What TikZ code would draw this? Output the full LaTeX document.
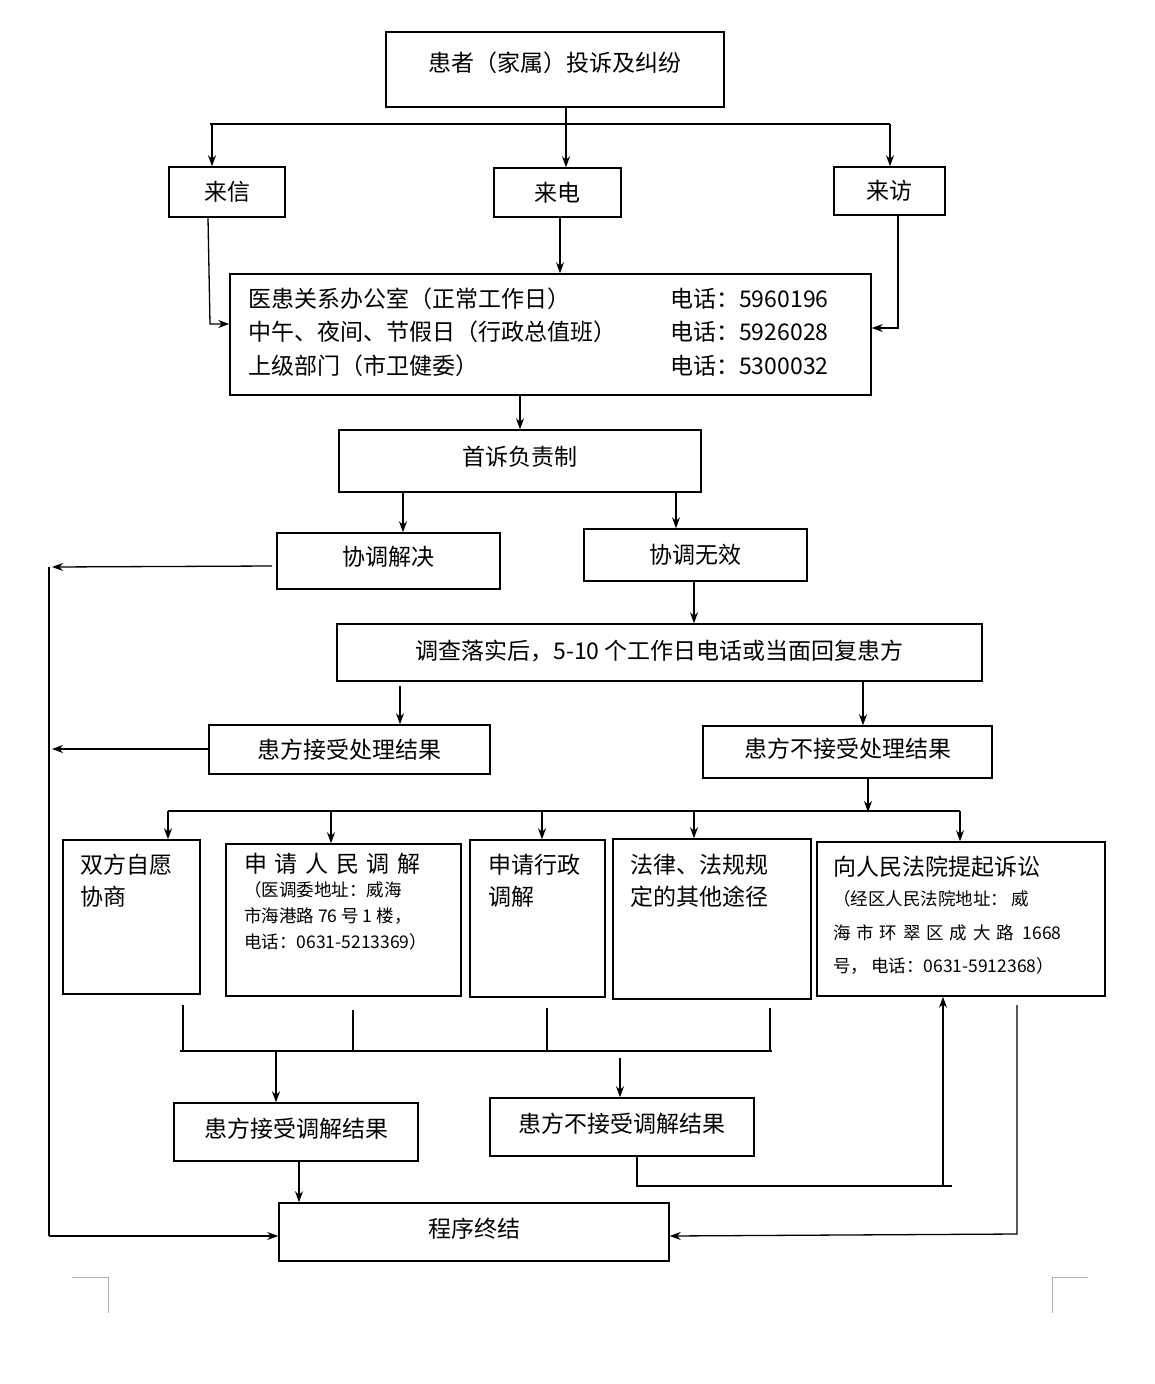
\documentclass[tikz,border=0pt]{standalone}
\usepackage{fontspec}
\setmainfont{Liberation Serif}
\newfontfamily\cjk{Noto Sans CJK SC}
\usetikzlibrary{arrows.meta}
\begin{document}
\begin{tikzpicture}[x=1pt,y=-1pt,
  box/.style={draw,line width=1.5pt,inner sep=0pt,font=\cjk\fontsize{23}{26}\selectfont},
  txt/.style={inner sep=0pt,anchor=west,font=\cjk\fontsize{23}{26}\selectfont},
  sm/.style={inner sep=0pt,anchor=west,font=\cjk\fontsize{17.5}{20}\selectfont},
  ln/.style={line width=1.3pt},
  ar/.style={line width=1.3pt,-{Stealth[length=11pt,width=8pt]}}]
\useasboundingbox (0,0) rectangle (1154,1384);
\newcommand\bx[6]{\node[box,minimum width={(#4-#2)*1pt},minimum height={(#5-#3)*1pt}] (#1) at ({(#2+#4)/2},{(#3+#5)/2}) {#6};}
\bx{top}{386}{32}{724}{107}{\raisebox{16pt}{患者（家属）投诉及纠纷}}
\bx{xin}{169}{167}{285}{217}{来信}
\bx{dian}{494}{168}{621}{217}{来电}
\bx{fang}{834}{167}{945}{215}{来访}
\bx{big}{230}{274}{871}{395}{}
\node[txt] at (248,299) {医患关系办公室（正常工作日）};
\node[txt] at (248,332) {中午、夜间、节假日（行政总值班）};
\node[txt] at (248,366) {上级部门（市卫健委）};
\node[txt] at (670,299) {电话：5960196};
\node[txt] at (670,332) {电话：5926028};
\node[txt] at (670,366) {电话：5300032};
\bx{shou}{339}{430}{701}{492}{\raisebox{10pt}{首诉负责制}}
\bx{jj}{277}{533}{500}{589}{\raisebox{10pt}{协调解决}}
\bx{wx}{584}{529}{807}{581}{协调无效}
\bx{dc}{337}{624}{982}{681}{\raisebox{6pt}{调查落实后，5-10 个工作日电话或当面回复患方}}
\bx{js}{209}{725}{490}{774}{患方接受处理结果}
\bx{bjs}{703}{726}{992}{778}{\raisebox{8pt}{患方不接受处理结果}}
\bx{A}{63}{840}{200}{994}{}
\bx{B}{226}{844}{461}{996}{}
\bx{C}{470}{840}{605}{997}{}
\bx{D}{613}{839}{811}{999}{}
\bx{E}{817}{842}{1105}{996}{}
\node[txt] at (80,865) {双方自愿};
\node[txt] at (80,897) {协商};
\node[txt] at (244,864) {申\,\,请\,\,人\,\,民\,\,调\,\,解};
\node[sm] at (244,890) {（医调委地址：威海};
\node[sm] at (244,916) {市海港路 76 号 1 楼，};
\node[sm] at (244,942) {电话：0631-5213369）};
\node[txt] at (488,865) {申请行政};
\node[txt] at (488,897) {调解};
\node[txt] at (630,865) {法律、法规规};
\node[txt] at (630,897) {定的其他途径};
\node[txt] at (833,867) {向人民法院提起诉讼};
\node[sm] at (833,899) {（经区人民法院地址：\,威};
\node[sm] at (833,933) {海\,\,市\,\,环\,\,翠\,\,区\,\,成\,\,大\,\,路\,\,\,1668};
\node[sm] at (833,966) {号，\,电话：0631-5912368）};
\bx{tj}{174}{1103}{418}{1161}{\raisebox{8pt}{患方接受调解结果}}
\bx{btj}{490}{1098}{754}{1156}{\raisebox{8pt}{患方不接受调解结果}}
\bx{end}{279}{1203}{669}{1261}{\raisebox{8pt}{程序终结}}
\coordinate (h1) at (210,124); \coordinate (h2) at (890,124);
\draw[ln] (h1) -- (h2);
\draw[ar] (212,124) -- (xin.north -| 212,0);
\draw[ar] (top.south -| 566,0) -- (dian.north -| 566,0);
\draw[ar] (h2) -- (fang.north -| 890,0);
\draw[ar] (dian.south -| 560,0) -- (big.north -| 560,0);
\draw[ar] (xin.south -| 208,0) -- (210,324) -- (big.west |- 0,324);
\draw[ar] (fang.south -| 898,0) -- (898,328) -- (big.east |- 0,328);
\draw[ar] (big.south -| 520,0) -- (shou.north -| 520,0);
\draw[ar] (shou.south -| 403,0) -- (jj.north -| 403,0);
\draw[ar] (shou.south -| 676,0) -- (wx.north -| 676,0);
\draw[ar] (wx.south -| 694,0) -- (dc.north -| 694,0);
\draw[ar] (400,686) -- (js.north -| 400,0);
\draw[ar] (dc.south -| 863,0) -- (bjs.north -| 863,0);
\coordinate (L1) at (49,567); \coordinate (L2) at (49,1236);
\draw[ar] (272,566) -- (52,567);
\draw[ar] (js.west |- 0,749) -- (52,749);
\draw[ln] (L1) -- (L2);
\draw[ar] (L2) -- (end.west |- 0,1236);
\draw[ar] (bjs.south -| 868,0) -- (868,812);
\draw[ln] (168,811) -- (960,811);
\draw[ar] (168,811) -- (A.north -| 168,0);
\draw[ar] (331,811) -- (B.north -| 331,0);
\draw[ar] (542,811) -- (C.north -| 542,0);
\draw[ar] (694,811) -- (D.north -| 694,0);
\draw[ar] (960,811) -- (E.north -| 960,0);
\draw[ln] (183,1005) -- (183,1051);
\draw[ln] (353,1010) -- (353,1051);
\draw[ln] (547,1008) -- (547,1051);
\draw[ln] (770,1008) -- (770,1051);
\draw[ln] (180,1051) -- (772,1051);
\draw[ar] (276,1051) -- (tj.north -| 276,0);
\draw[ar] (620,1058) -- (btj.north -| 620,0);
\draw[ar] (tj.south -| 299,0) -- (end.north -| 299,0);
\draw[ln] (btj.south -| 637,0) -- (637,1186) -- (952,1186);
\draw[ar] (943,1186) -- (E.south -| 943,0);
\draw[ar] (1017,1005) -- (1017,1234) -- (end.east |- 0,1236);
\draw[gray!60,line width=0.8pt] (72,1277) -- (108,1277) -- (108,1313);
\draw[gray!60,line width=0.8pt] (1088,1277) -- (1052,1277) -- (1052,1313);
\end{tikzpicture}
\end{document}
